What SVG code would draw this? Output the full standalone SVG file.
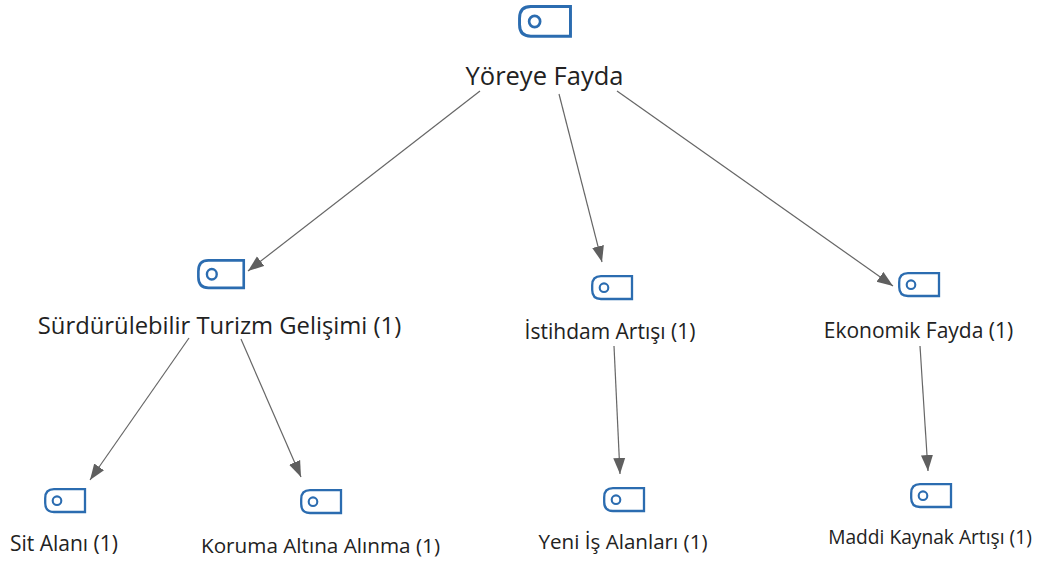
<svg xmlns="http://www.w3.org/2000/svg" width="1039" height="563" viewBox="0 0 1039 563">
<defs>
<marker id="a" markerUnits="userSpaceOnUse" markerWidth="18" markerHeight="14" refX="16" refY="6.500" orient="auto"><path d="M0,0.500L16,6.500L0,12.500z" fill="#5f5f5f"/></marker>
<g id="tag"><path d="M10,1.200H41V24H10Q1.200,24 1.200,15V10.200Q1.200,1.200 10,1.200z" fill="#fff" stroke="#2b6cb0" stroke-width="2.300"/><circle cx="13" cy="12.700" r="4.300" fill="none" stroke="#2b6cb0" stroke-width="2.100"/></g>
</defs>
<style>
text{font-family:"Open Sans","Noto Sans","Liberation Sans",sans-serif;fill:#222;text-anchor:middle}
.l{stroke:#666;stroke-width:1.200;fill:none;marker-end:url(#a)}
</style>
<rect width="1039" height="563" fill="#fff"/>
<g id="connectors">
<line class="l" x1="480" y1="91" x2="248" y2="271"/>
<line class="l" x1="559" y1="94" x2="602" y2="262"/>
<line class="l" x1="617" y1="91" x2="893" y2="286"/>
<line class="l" x1="189" y1="338" x2="90" y2="480"/>
<line class="l" x1="241" y1="339" x2="301" y2="477"/>
<line class="l" x1="614" y1="346" x2="620" y2="474"/>
<line class="l" x1="920" y1="346" x2="928" y2="471"/>
</g>
<g id="n0"><use href="#tag" transform="translate(518 5) scale(1.28 1.3)"/><text x="544.500" y="85" font-size="25.500">Yöreye Fayda</text></g>
<g id="n1"><use href="#tag" transform="translate(197 259) scale(1.14 1.2)"/><text x="219.500" y="334" font-size="23.800">Sürdürülebilir Turizm Gelişimi (1)</text></g>
<g id="n2"><use href="#tag" x="591" y="275"/><text x="610" y="339" font-size="21">İstihdam Artışı (1)</text></g>
<g id="n3"><use href="#tag" x="898" y="272"/><text x="918.500" y="338" font-size="21">Ekonomik Fayda (1)</text></g>
<g id="n4"><use href="#tag" x="44" y="488"/><text x="64" y="551" font-size="21">Sit Alanı (1)</text></g>
<g id="n5"><use href="#tag" x="300" y="489"/><text x="320.500" y="553" font-size="20.700">Koruma Altına Alınma (1)</text></g>
<g id="n6"><use href="#tag" x="603" y="487"/><text x="623" y="549" font-size="20.600">Yeni İş Alanları (1)</text></g>
<g id="n7"><use href="#tag" x="910" y="483"/><text x="930" y="544" font-size="19.200">Maddi Kaynak Artışı (1)</text></g>
</svg>
